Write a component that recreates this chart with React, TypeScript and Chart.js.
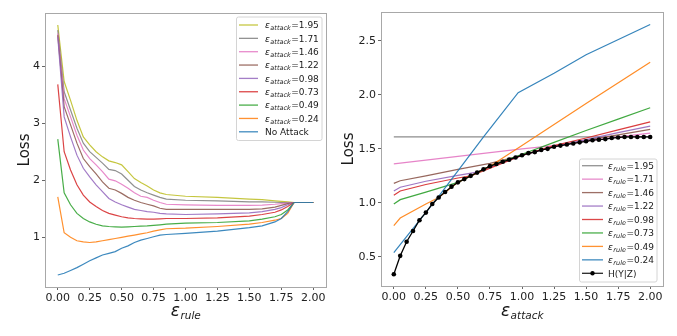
import React, { useEffect, useRef } from 'react';
import { Chart, registerables } from 'chart.js';
Chart.register(...registerables);

const FONT = '"DejaVu Sans", "Liberation Sans", sans-serif';

// ---------- Left chart data (x = eps_rule) ----------
const LEFT_X = [0, 0.05, 0.1, 0.15, 0.2, 0.25, 0.3, 0.35, 0.4, 0.45, 0.5, 0.55, 0.6, 0.65, 0.7, 0.75, 0.8, 0.85, 1.0, 1.25, 1.5, 1.6, 1.7, 1.75, 1.8, 1.85, 2.0];
const ATK_195 = [4.72, 3.73, 3.40, 3.05, 2.76, 2.62, 2.50, 2.41, 2.34, 2.31, 2.27, 2.15, 2.03, 1.96, 1.90, 1.83, 1.78, 1.75, 1.72, 1.70, 1.67, 1.66, 1.64, 1.63, 1.62, 1.61, 1.61];
const ATK_171 = [4.63, 3.55, 3.23, 2.91, 2.65, 2.50, 2.40, 2.30, 2.19, 2.17, 2.11, 2.00, 1.89, 1.83, 1.78, 1.74, 1.70, 1.67, 1.65, 1.64, 1.62, 1.62, 1.615, 1.61, 1.61, 1.61, 1.61];
const ATK_146 = [4.57, 3.43, 3.11, 2.79, 2.53, 2.38, 2.27, 2.15, 2.02, 1.99, 1.93, 1.86, 1.78, 1.72, 1.70, 1.65, 1.61, 1.58, 1.57, 1.56, 1.56, 1.565, 1.58, 1.59, 1.60, 1.61, 1.61];
const ATK_122 = [4.54, 3.29, 2.97, 2.65, 2.38, 2.24, 2.11, 1.97, 1.86, 1.83, 1.77, 1.70, 1.65, 1.61, 1.58, 1.55, 1.51, 1.49, 1.49, 1.49, 1.49, 1.50, 1.53, 1.56, 1.59, 1.61, 1.61];
const ATK_098 = [4.51, 3.11, 2.76, 2.44, 2.21, 2.06, 1.92, 1.80, 1.68, 1.62, 1.57, 1.53, 1.49, 1.47, 1.45, 1.44, 1.42, 1.41, 1.40, 1.41, 1.43, 1.45, 1.49, 1.52, 1.57, 1.61, 1.61];
const ATK_073 = [3.68, 2.50, 2.18, 1.92, 1.74, 1.62, 1.54, 1.47, 1.42, 1.39, 1.36, 1.34, 1.33, 1.325, 1.32, 1.32, 1.325, 1.33, 1.33, 1.34, 1.37, 1.40, 1.44, 1.48, 1.54, 1.61, 1.61];
const ATK_049 = [2.72, 1.78, 1.57, 1.42, 1.33, 1.27, 1.23, 1.20, 1.19, 1.185, 1.18, 1.185, 1.19, 1.195, 1.20, 1.21, 1.22, 1.23, 1.25, 1.26, 1.29, 1.32, 1.36, 1.40, 1.48, 1.61, 1.61];
const ATK_024 = [1.71, 1.08, 1.00, 0.94, 0.92, 0.91, 0.92, 0.94, 0.96, 0.98, 1.00, 1.02, 1.04, 1.06, 1.08, 1.11, 1.13, 1.15, 1.16, 1.19, 1.23, 1.26, 1.30, 1.33, 1.42, 1.61, 1.61];
const NO_ATTACK = [0.34, 0.37, 0.42, 0.47, 0.53, 0.59, 0.64, 0.69, 0.72, 0.75, 0.81, 0.85, 0.91, 0.95, 0.98, 1.01, 1.04, 1.05, 1.07, 1.11, 1.17, 1.20, 1.27, 1.33, 1.45, 1.61, 1.61];

// ---------- Right chart data (x = eps_attack) ----------
const H_X = [0, 0.05, 0.1, 0.15, 0.2, 0.25, 0.3, 0.35, 0.4, 0.45, 0.5, 0.55, 0.6, 0.65, 0.7, 0.75, 0.8, 0.85, 0.9, 0.95, 1.0, 1.05, 1.1, 1.15, 1.2, 1.25, 1.3, 1.35, 1.4, 1.45, 1.5, 1.55, 1.6, 1.65, 1.7, 1.75, 1.8, 1.85, 1.9, 1.95, 2.0];
const H_Y = [0.34, 0.51, 0.64, 0.74, 0.84, 0.91, 0.99, 1.05, 1.10, 1.15, 1.19, 1.22, 1.25, 1.28, 1.31, 1.34, 1.36, 1.38, 1.40, 1.42, 1.44, 1.46, 1.47, 1.49, 1.50, 1.52, 1.53, 1.54, 1.55, 1.56, 1.57, 1.58, 1.585, 1.59, 1.60, 1.605, 1.61, 1.61, 1.61, 1.61, 1.61];
const RULE_195_X = [0, 2.0];
const RULE_195_Y = [1.61, 1.61];
const RULE_171_X = [0, 0.5, 1.0, 1.25, 1.5, 1.75, 2.0];
const RULE_171_Y = [1.36, 1.43, 1.50, 1.53, 1.57, 1.61, 1.645];
const RULE_146_X = [0, 0.05, 0.25, 0.5, 0.75, 1.0, 1.25, 1.5, 1.75, 2.0];
const RULE_146_Y = [1.18, 1.205, 1.25, 1.31, 1.365, 1.44, 1.52, 1.58, 1.63, 1.68];
const RULE_122_X = [0, 0.05, 0.25, 0.5, 0.65, 1.0, 1.25, 1.5, 1.75, 2.0];
const RULE_122_Y = [1.11, 1.145, 1.20, 1.255, 1.285, 1.44, 1.52, 1.585, 1.65, 1.71];
const RULE_098_X = [0, 0.05, 0.25, 0.5, 0.6, 1.0, 1.25, 1.5, 1.75, 2.0];
const RULE_098_Y = [1.07, 1.11, 1.17, 1.23, 1.25, 1.44, 1.53, 1.60, 1.675, 1.75];
const RULE_073_X = [0, 0.05, 0.25, 0.5, 0.75, 1.0, 1.25, 1.5, 1.75, 2.0];
const RULE_073_Y = [0.99, 1.03, 1.10, 1.19, 1.34, 1.45, 1.56, 1.67, 1.775, 1.88];
const RULE_049_X = [0, 0.05, 0.25, 0.35, 0.5, 0.65, 0.75, 1.0, 1.5, 2.0];
const RULE_049_Y = [0.79, 0.86, 0.99, 1.05, 1.19, 1.28, 1.34, 1.53, 1.92, 2.30];
const RULE_024_X = [0, 0.35, 0.7, 0.97, 1.25, 1.5, 2.0];
const RULE_024_Y = [0.54, 1.06, 1.61, 2.02, 2.20, 2.37, 2.65];

// ---------- Ticks / labels ----------
const X_TICKS = [0, 0.25, 0.5, 0.75, 1.0, 1.25, 1.5, 1.75, 2.0];
const LEFT_Y_TICKS = [1, 2, 3, 4];
const RIGHT_Y_TICKS = [0.5, 1.0, 1.5, 2.0, 2.5];
const LEFT_LEGEND = ['1.95', '1.71', '1.46', '1.22', '0.98', '0.73', '0.49', '0.24', 'No Attack'];
const RIGHT_LEGEND = ['1.95', '1.71', '1.46', '1.22', '0.98', '0.73', '0.49', '0.24', 'H(Y|Z)'];

const C = {
  blue: '#1f77b4', orange: '#ff7f0e', green: '#2ca02c', red: '#d62728', purple: '#9467bd',
  brown: '#8c564b', pink: '#e377c2', gray: '#7f7f7f', olive: '#bcbd22',
};
const LEGEND_COLORS = [C.olive, C.gray, C.pink, C.brown, C.purple, C.red, C.green, C.orange, C.blue];
const RIGHT_LEGEND_COLORS = [C.gray, C.pink, C.brown, C.purple, C.red, C.green, C.orange, C.blue, '#000'];

const zip = (xs: number[], ys: number[]) => xs.map((x, i) => ({ x, y: ys[i] }));

function lineDs(data: any[], color: string, extra: any = {}) {
  return {
    data, borderColor: color, backgroundColor: color, borderWidth: 1.2,
    pointRadius: 0, tension: 0, fill: false, ...extra,
  };
}

function drawMath(ctx: CanvasRenderingContext2D, x: number, y: number, sub: string, rest: string, size: number, subSize: number, align: 'left' | 'center') {
  const f1 = `italic ${size}px ${FONT}`;
  const f2 = `italic ${subSize}px ${FONT}`;
  const f3 = `${size}px ${FONT}`;
  ctx.font = f1; const w1 = ctx.measureText('ε').width;
  ctx.font = f2; const w2 = ctx.measureText(sub).width;
  ctx.font = f3; const w3 = rest ? ctx.measureText(rest).width : 0;
  let sx = align === 'center' ? x - (w1 + w2 + w3) / 2 : x;
  ctx.textAlign = 'left';
  ctx.textBaseline = 'alphabetic';
  ctx.font = f1; ctx.fillText('ε', sx, y); sx += w1 + 0.5;
  ctx.font = f2; ctx.fillText(sub, sx, y + subSize * 0.3); sx += w2 + 0.5;
  if (rest) { ctx.font = f3; ctx.fillText(rest, sx, y); }
}

interface Deco {
  xSub: string; lossX: number; legend: { x: number; y: number; w: number; h: number; row0: number; pitch: number; lineX0: number; lineX1: number; textX: number };
  legendSub: string; labels: string[]; colors: string[]; lastPlain: boolean; lastMarker: boolean;
}

function decoPlugin(d: Deco) {
  return {
    id: 'deco',
    afterDraw(chart: any) {
      const ctx: CanvasRenderingContext2D = chart.ctx;
      const a = chart.chartArea;
      ctx.save();
      // frame
      ctx.strokeStyle = '#a8a8a8';
      ctx.lineWidth = 1;
      ctx.strokeRect(Math.round(a.left) + 0.5, Math.round(a.top) + 0.5, Math.round(a.right - a.left), Math.round(a.bottom - a.top));
      ctx.fillStyle = '#1a1a1a';
      // y title
      ctx.save();
      ctx.translate(d.lossX, (a.top + a.bottom) / 2);
      ctx.rotate(-Math.PI / 2);
      ctx.font = `15px ${FONT}`;
      ctx.textAlign = 'center';
      ctx.textBaseline = 'alphabetic';
      ctx.fillText('Loss', 0, 0);
      ctx.restore();
      // x title
      drawMath(ctx, (a.left + a.right) / 2, 316, d.xSub, '', 17, 10.5, 'center');
      // legend
      const L = d.legend;
      ctx.beginPath();
      (ctx as any).roundRect(L.x + 0.5, L.y + 0.5, L.w, L.h, 2);
      ctx.fillStyle = 'rgba(255,255,255,0.85)';
      ctx.fill();
      ctx.strokeStyle = '#d4d4d4';
      ctx.stroke();
      d.labels.forEach((lab, i) => {
        const y = L.row0 + i * L.pitch;
        ctx.strokeStyle = d.colors[i];
        ctx.globalAlpha = 0.85;
        ctx.lineWidth = 1.3;
        ctx.beginPath(); ctx.moveTo(L.lineX0, y); ctx.lineTo(L.lineX1, y); ctx.stroke();
        ctx.globalAlpha = 1;
        if (d.lastMarker && i === d.labels.length - 1) {
          ctx.fillStyle = '#000';
          ctx.beginPath(); ctx.arc((L.lineX0 + L.lineX1) / 2, y, 2.2, 0, Math.PI * 2); ctx.fill();
        }
        ctx.fillStyle = '#1a1a1a';
        if (d.lastPlain && i === d.labels.length - 1) {
          ctx.font = `9px ${FONT}`;
          ctx.textAlign = 'left';
          ctx.textBaseline = 'alphabetic';
          ctx.fillText(lab, L.textX, y + 3.3);
        } else {
          drawMath(ctx, L.textX, y + 3.3, d.legendSub, '=' + lab, 9, 6.5, 'left');
        }
      });
      ctx.restore();
    },
  };
}

function baseOptions(yTicks: number[], yMin: number, yMax: number, yFmt: (v: number) => string, yWidth: number, xHeight: number, pad: any) {
  const tickFont = { family: FONT, size: 11 };
  return {
    animation: false,
    responsive: false,
    devicePixelRatio: 1,
    layout: { padding: pad },
    plugins: { legend: { display: false }, tooltip: { enabled: false } },
    scales: {
      x: {
        type: 'linear', min: -0.1, max: 2.1,
        afterBuildTicks: (s: any) => { s.ticks = X_TICKS.map((v) => ({ value: v })); },
        afterFit: (s: any) => { s.height = xHeight; },
        ticks: { font: tickFont, color: '#222', padding: 2, autoSkip: false, maxRotation: 0, callback: (v: any) => Number(v).toFixed(2) },
        grid: { display: true, drawOnChartArea: false, drawTicks: true, tickLength: 3, tickColor: '#666' },
        border: { display: false },
      },
      y: {
        type: 'linear', min: yMin, max: yMax,
        afterBuildTicks: (s: any) => { s.ticks = yTicks.map((v) => ({ value: v })); },
        afterFit: (s: any) => { s.width = yWidth; },
        ticks: { font: tickFont, color: '#222', padding: 2, autoSkip: false, callback: (v: any) => yFmt(Number(v)) },
        grid: { display: true, drawOnChartArea: false, drawTicks: true, tickLength: 3, tickColor: '#666' },
        border: { display: false },
      },
    },
  };
}

function LeftChart() {
  const ref = useRef<HTMLCanvasElement>(null);
  useEffect(() => {
    const series = [NO_ATTACK, ATK_024, ATK_049, ATK_073, ATK_098, ATK_122, ATK_146, ATK_171, ATK_195];
    const colors = [C.blue, C.orange, C.green, C.red, C.purple, C.brown, C.pink, C.gray, C.olive];
    const datasets = series.map((s, i) => lineDs(zip(LEFT_X, s), colors[i] + 'dd'));
    const chart = new Chart(ref.current!, {
      type: 'line',
      data: { datasets } as any,
      options: baseOptions(LEFT_Y_TICKS, 0.13, 4.93, (v) => String(v), 45, 49, { left: 0, right: 14, top: 13, bottom: 0 }) as any,
      plugins: [decoPlugin({
        xSub: 'rule', lossX: 29.3, legendSub: 'attack', labels: LEFT_LEGEND, colors: LEGEND_COLORS,
        lastPlain: true, lastMarker: false,
        legend: { x: 236, y: 16.5, w: 85.5, h: 123.5, row0: 25, pitch: 13.35, lineX0: 239, lineX1: 258, textX: 265 },
      })],
    });
    return () => chart.destroy();
  }, []);
  return <canvas ref={ref} width={340} height={336} style={{ position: 'absolute', left: 0, top: 0 }} />;
}

function RightChart() {
  const ref = useRef<HTMLCanvasElement>(null);
  useEffect(() => {
    const datasets = [
      lineDs(zip(H_X, H_Y), '#000', { pointRadius: 2.3, pointBackgroundColor: '#000', pointBorderWidth: 0, borderWidth: 1.3 }),
      lineDs(zip(RULE_024_X, RULE_024_Y), C.blue + 'e6'),
      lineDs(zip(RULE_049_X, RULE_049_Y), C.orange + 'e6'),
      lineDs(zip(RULE_073_X, RULE_073_Y), C.green + 'e6'),
      lineDs(zip(RULE_098_X, RULE_098_Y), C.red + 'e6'),
      lineDs(zip(RULE_122_X, RULE_122_Y), C.purple + 'e6'),
      lineDs(zip(RULE_146_X, RULE_146_Y), C.brown + 'e6'),
      lineDs(zip(RULE_171_X, RULE_171_Y), C.pink + 'e6'),
      lineDs(zip(RULE_195_X, RULE_195_Y), C.gray + 'e6'),
    ];
    const chart = new Chart(ref.current!, {
      type: 'line',
      data: { datasets } as any,
      options: baseOptions(RIGHT_Y_TICKS, 0.231, 2.766, (v) => v.toFixed(1), 41, 50, { left: 0, right: 14, top: 12, bottom: 0 }) as any,
      plugins: [decoPlugin({
        xSub: 'attack', lossX: 13.3, legendSub: 'rule', labels: RIGHT_LEGEND, colors: RIGHT_LEGEND_COLORS,
        lastPlain: true, lastMarker: true,
        legend: { x: 239, y: 158.5, w: 77.5, h: 123, row0: 165.7, pitch: 13.45, lineX0: 242, lineX1: 263, textX: 268 },
      })],
    });
    return () => chart.destroy();
  }, []);
  return <canvas ref={ref} width={337} height={336} style={{ position: 'absolute', left: 340, top: 0 }} />;
}

export default function App() {
  return (
    <div style={{ position: 'absolute', left: 0, top: 0, width: 677, height: 336, background: '#fff' }}>
      <LeftChart />
      <RightChart />
    </div>
  );
}
